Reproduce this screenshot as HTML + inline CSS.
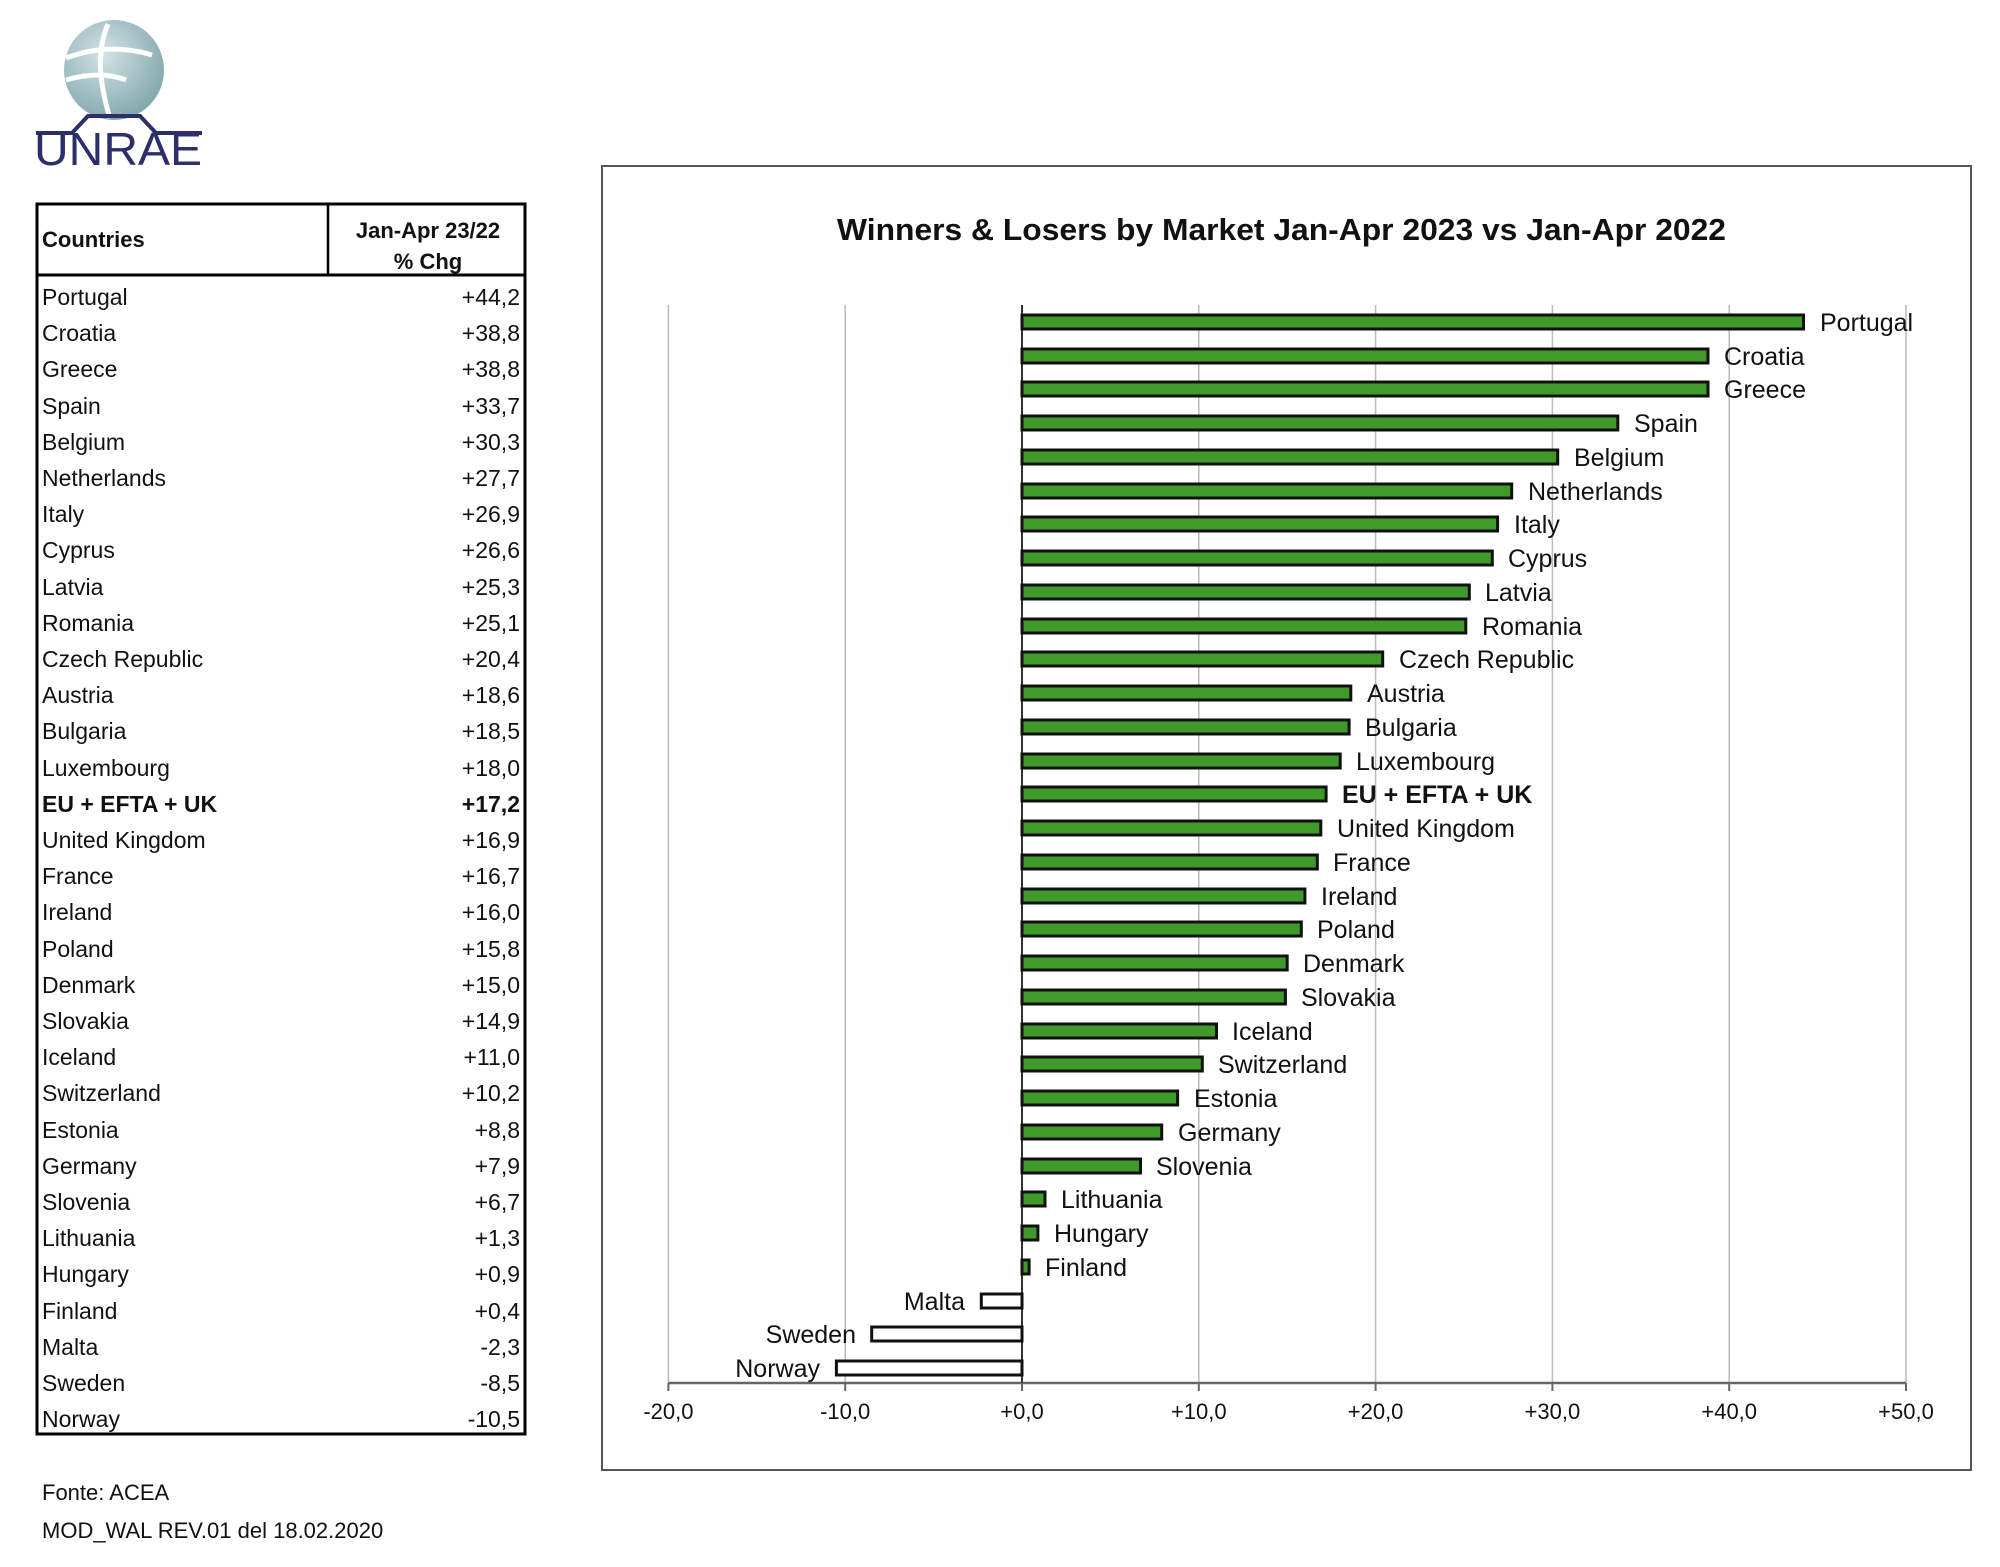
<!DOCTYPE html>
<html><head><meta charset="utf-8"><style>
html,body{margin:0;padding:0;background:#fff;}
svg{display:block;}
text{font-family:"Liberation Sans",sans-serif;fill:#111;}
.t{font-size:23px;}
.r{text-anchor:end;}
.b{font-weight:bold;}
.l{font-size:25px;}
.g line{stroke:#bbb;stroke-width:1.5;}
.bar{fill:#3f9a2a;stroke:#111;stroke-width:3;}
.nb{fill:#fff;stroke:#111;stroke-width:3;}
.tk{font-size:22px;text-anchor:middle;}
</style></head><body>
<svg width="2000" height="1567" viewBox="0 0 2000 1567" xmlns="http://www.w3.org/2000/svg">
<defs>
<radialGradient id="gr" cx="0.4" cy="0.35" r="0.7"><stop offset="0" stop-color="#d3e3e5"/><stop offset="1" stop-color="#7fa5ab"/></radialGradient>
</defs>
<circle cx="114" cy="70" r="50" fill="url(#gr)"/>
<path d="M108 24 Q92 60 110 118" stroke="#fff" stroke-width="5" fill="none"/>
<path d="M66 58 Q110 42 152 55" stroke="#fff" stroke-width="5" fill="none"/>
<path d="M66 80 Q100 70 126 80" stroke="#fff" stroke-width="5" fill="none"/>
<path d="M36 133 L72 133 L88 116 L140 116 L156 133 L202 133" stroke="#2c2f6a" stroke-width="4" fill="none"/>
<text x="34" y="165" font-size="46" style="fill:#2c2f6a" textLength="168" lengthAdjust="spacingAndGlyphs">UNRAE</text>

<rect x="37" y="204" width="488" height="1230" fill="none" stroke="#000" stroke-width="3"/>
<line x1="37" y1="275" x2="525" y2="275" stroke="#000" stroke-width="3"/>
<line x1="328" y1="204" x2="328" y2="275" stroke="#000" stroke-width="2.5"/>
<text x="42" y="247" font-size="22" font-weight="bold">Countries</text>
<text x="428" y="238" font-size="22" font-weight="bold" text-anchor="middle">Jan-Apr 23/22</text>
<text x="428" y="269" font-size="22" font-weight="bold" text-anchor="middle">% Chg</text>

<g class="t">
<text x="42" y="305">Portugal</text><text class="r" x="520" y="305">+44,2</text>
<text x="42" y="341">Croatia</text><text class="r" x="520" y="341">+38,8</text>
<text x="42" y="377">Greece</text><text class="r" x="520" y="377">+38,8</text>
<text x="42" y="414">Spain</text><text class="r" x="520" y="414">+33,7</text>
<text x="42" y="450">Belgium</text><text class="r" x="520" y="450">+30,3</text>
<text x="42" y="486">Netherlands</text><text class="r" x="520" y="486">+27,7</text>
<text x="42" y="522">Italy</text><text class="r" x="520" y="522">+26,9</text>
<text x="42" y="558">Cyprus</text><text class="r" x="520" y="558">+26,6</text>
<text x="42" y="595">Latvia</text><text class="r" x="520" y="595">+25,3</text>
<text x="42" y="631">Romania</text><text class="r" x="520" y="631">+25,1</text>
<text x="42" y="667">Czech Republic</text><text class="r" x="520" y="667">+20,4</text>
<text x="42" y="703">Austria</text><text class="r" x="520" y="703">+18,6</text>
<text x="42" y="739">Bulgaria</text><text class="r" x="520" y="739">+18,5</text>
<text x="42" y="776">Luxembourg</text><text class="r" x="520" y="776">+18,0</text>
<text class="b" x="42" y="812">EU + EFTA + UK</text><text class="r b" x="520" y="812">+17,2</text>
<text x="42" y="848">United Kingdom</text><text class="r" x="520" y="848">+16,9</text>
<text x="42" y="884">France</text><text class="r" x="520" y="884">+16,7</text>
<text x="42" y="920">Ireland</text><text class="r" x="520" y="920">+16,0</text>
<text x="42" y="957">Poland</text><text class="r" x="520" y="957">+15,8</text>
<text x="42" y="993">Denmark</text><text class="r" x="520" y="993">+15,0</text>
<text x="42" y="1029">Slovakia</text><text class="r" x="520" y="1029">+14,9</text>
<text x="42" y="1065">Iceland</text><text class="r" x="520" y="1065">+11,0</text>
<text x="42" y="1101">Switzerland</text><text class="r" x="520" y="1101">+10,2</text>
<text x="42" y="1138">Estonia</text><text class="r" x="520" y="1138">+8,8</text>
<text x="42" y="1174">Germany</text><text class="r" x="520" y="1174">+7,9</text>
<text x="42" y="1210">Slovenia</text><text class="r" x="520" y="1210">+6,7</text>
<text x="42" y="1246">Lithuania</text><text class="r" x="520" y="1246">+1,3</text>
<text x="42" y="1282">Hungary</text><text class="r" x="520" y="1282">+0,9</text>
<text x="42" y="1319">Finland</text><text class="r" x="520" y="1319">+0,4</text>
<text x="42" y="1355">Malta</text><text class="r" x="520" y="1355">-2,3</text>
<text x="42" y="1391">Sweden</text><text class="r" x="520" y="1391">-8,5</text>
<text x="42" y="1427">Norway</text><text class="r" x="520" y="1427">-10,5</text>
</g>

<rect x="602" y="166" width="1369" height="1304" fill="none" stroke="#555" stroke-width="2"/>
<text x="837" y="240" font-size="31" font-weight="bold" textLength="889" lengthAdjust="spacingAndGlyphs">Winners &amp; Losers by Market  Jan-Apr 2023 vs Jan-Apr 2022</text>

<g class="g">
<line x1="668.4" y1="305" x2="668.4" y2="1383"/><line x1="845.2" y1="305" x2="845.2" y2="1383"/>
<line x1="1198.8" y1="305" x2="1198.8" y2="1383"/><line x1="1375.6" y1="305" x2="1375.6" y2="1383"/>
<line x1="1552.4" y1="305" x2="1552.4" y2="1383"/><line x1="1729.2" y1="305" x2="1729.2" y2="1383"/>
<line x1="1906" y1="305" x2="1906" y2="1383"/>
</g>
<g stroke="#666" stroke-width="2">
<line x1="668.4" y1="1383" x2="668.4" y2="1391"/><line x1="845.2" y1="1383" x2="845.2" y2="1391"/>
<line x1="1022" y1="1383" x2="1022" y2="1391"/><line x1="1198.8" y1="1383" x2="1198.8" y2="1391"/>
<line x1="1375.6" y1="1383" x2="1375.6" y2="1391"/><line x1="1552.4" y1="1383" x2="1552.4" y2="1391"/>
<line x1="1729.2" y1="1383" x2="1729.2" y2="1391"/><line x1="1906" y1="1383" x2="1906" y2="1391"/>
<line x1="668.4" y1="1383" x2="1906" y2="1383" stroke-width="2.5"/>
</g>
<line x1="1022" y1="305" x2="1022" y2="1383" stroke="#333" stroke-width="2"/>
<g class="tk">
<text x="668.4" y="1419">-20,0</text><text x="845.2" y="1419">-10,0</text><text x="1022" y="1419">+0,0</text>
<text x="1198.8" y="1419">+10,0</text><text x="1375.6" y="1419">+20,0</text><text x="1552.4" y="1419">+30,0</text>
<text x="1729.2" y="1419">+40,0</text><text x="1906" y="1419">+50,0</text>
</g>

<g>
<rect class="bar" x="1022" y="315" width="781.5" height="14"/>
<rect class="bar" x="1022" y="349" width="686" height="14"/>
<rect class="bar" x="1022" y="382" width="686" height="14"/>
<rect class="bar" x="1022" y="416" width="595.8" height="14"/>
<rect class="bar" x="1022" y="450" width="535.7" height="14"/>
<rect class="bar" x="1022" y="484" width="489.7" height="14"/>
<rect class="bar" x="1022" y="517" width="475.6" height="14"/>
<rect class="bar" x="1022" y="551" width="470.3" height="14"/>
<rect class="bar" x="1022" y="585" width="447.3" height="14"/>
<rect class="bar" x="1022" y="619" width="443.8" height="14"/>
<rect class="bar" x="1022" y="652" width="360.7" height="14"/>
<rect class="bar" x="1022" y="686" width="328.8" height="14"/>
<rect class="bar" x="1022" y="720" width="327.1" height="14"/>
<rect class="bar" x="1022" y="754" width="318.2" height="14"/>
<rect class="bar" x="1022" y="787" width="304.1" height="14"/>
<rect class="bar" x="1022" y="821" width="298.8" height="14"/>
<rect class="bar" x="1022" y="855" width="295.3" height="14"/>
<rect class="bar" x="1022" y="889" width="282.9" height="14"/>
<rect class="bar" x="1022" y="922" width="279.3" height="14"/>
<rect class="bar" x="1022" y="956" width="265.2" height="14"/>
<rect class="bar" x="1022" y="990" width="263.4" height="14"/>
<rect class="bar" x="1022" y="1024" width="194.5" height="14"/>
<rect class="bar" x="1022" y="1057" width="180.3" height="14"/>
<rect class="bar" x="1022" y="1091" width="155.6" height="14"/>
<rect class="bar" x="1022" y="1125" width="139.7" height="14"/>
<rect class="bar" x="1022" y="1159" width="118.5" height="14"/>
<rect class="bar" x="1022" y="1192" width="23" height="14"/>
<rect class="bar" x="1022" y="1226" width="15.9" height="14"/>
<rect class="bar" x="1022" y="1260" width="7.1" height="14"/>
<rect class="nb" x="981.3" y="1294" width="40.7" height="14"/>
<rect class="nb" x="871.7" y="1327" width="150.3" height="14"/>
<rect class="nb" x="836.4" y="1361" width="185.6" height="14"/>
</g>
<g class="l">
<text x="1820" y="331">Portugal</text>
<text x="1724" y="365">Croatia</text>
<text x="1724" y="398">Greece</text>
<text x="1634" y="432">Spain</text>
<text x="1574" y="466">Belgium</text>
<text x="1528" y="500">Netherlands</text>
<text x="1514" y="533">Italy</text>
<text x="1508" y="567">Cyprus</text>
<text x="1485" y="601">Latvia</text>
<text x="1482" y="635">Romania</text>
<text x="1399" y="668">Czech Republic</text>
<text x="1367" y="702">Austria</text>
<text x="1365" y="736">Bulgaria</text>
<text x="1356" y="770">Luxembourg</text>
<text class="b" x="1342" y="803">EU + EFTA + UK</text>
<text x="1337" y="837">United Kingdom</text>
<text x="1333" y="871">France</text>
<text x="1321" y="905">Ireland</text>
<text x="1317" y="938">Poland</text>
<text x="1303" y="972">Denmark</text>
<text x="1301" y="1006">Slovakia</text>
<text x="1232" y="1040">Iceland</text>
<text x="1218" y="1073">Switzerland</text>
<text x="1194" y="1107">Estonia</text>
<text x="1178" y="1141">Germany</text>
<text x="1156" y="1175">Slovenia</text>
<text x="1061" y="1208">Lithuania</text>
<text x="1054" y="1242">Hungary</text>
<text x="1045" y="1276">Finland</text>
<text class="r" x="965" y="1310">Malta</text>
<text class="r" x="856" y="1343">Sweden</text>
<text class="r" x="820" y="1377">Norway</text>
</g>

<text x="42" y="1500" font-size="22">Fonte: ACEA</text>
<text x="42" y="1538" font-size="22">MOD_WAL REV.01 del 18.02.2020</text>
</svg>
</body></html>
